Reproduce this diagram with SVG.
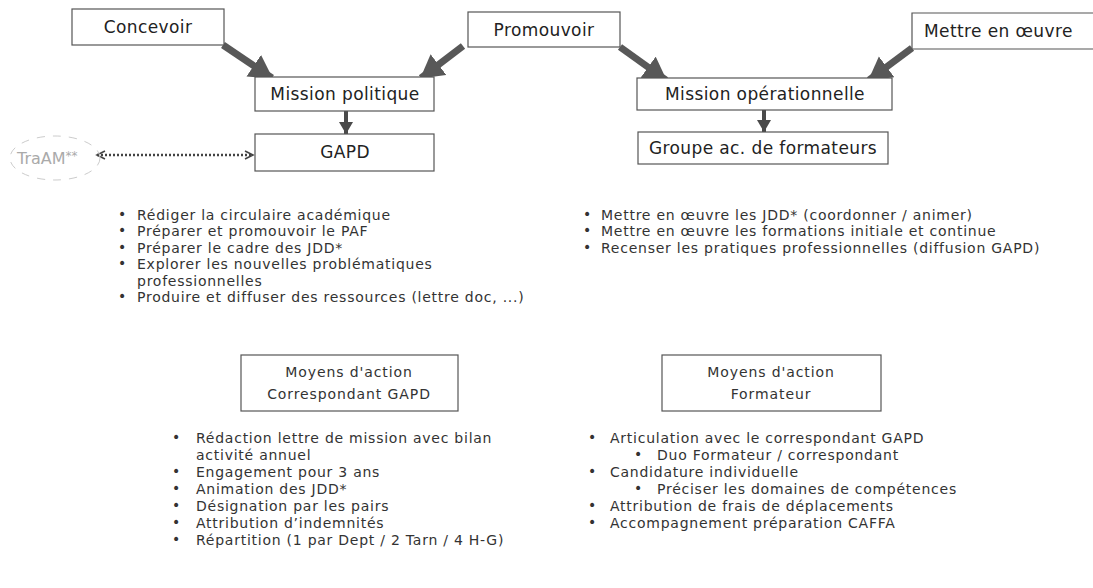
<svg xmlns="http://www.w3.org/2000/svg" width="1093" height="588" viewBox="0 0 1093 588">
<style>
.box{fill:#fff;stroke:#555;stroke-width:1.2}
.lbl{font-family:"DejaVu Sans","Open Sans",sans-serif;font-size:17px;letter-spacing:0.4px;fill:#222;text-anchor:middle}
.li{font-family:"DejaVu Sans","Open Sans",sans-serif;font-size:14px;letter-spacing:0.75px;fill:#333}
.mo{font-family:"DejaVu Sans","Open Sans",sans-serif;font-size:14px;letter-spacing:0.9px;fill:#333;text-anchor:middle}
.bul{font-family:"DejaVu Sans","Open Sans",sans-serif;font-size:14px;fill:#333}
.big{stroke:#585858;stroke-width:7;fill:none}
.small{stroke:#4a4a4a;stroke-width:4;fill:none}
</style>
<defs>
<marker id="hb" markerUnits="userSpaceOnUse" markerWidth="28" markerHeight="28" refX="22" refY="13" orient="auto">
<path d="M0,0 L23,13 L0,26 Z" fill="#585858"/>
</marker>
<marker id="hs" markerUnits="userSpaceOnUse" markerWidth="16" markerHeight="16" refX="12" refY="7" orient="auto">
<path d="M0,0 L12,7 L0,14 Z" fill="#4a4a4a"/>
</marker>
<marker id="chev" markerUnits="userSpaceOnUse" markerWidth="12" markerHeight="12" refX="9" refY="5" orient="auto-start-reverse">
<path d="M1,1 L9,5 L1,9" fill="none" stroke="#444" stroke-width="1.6"/>
</marker>
</defs>
<rect width="1093" height="588" fill="#fff"/>

<g id="connectors">
<line class="big" x1="223" y1="45" x2="272" y2="78" marker-end="url(#hb)"/>
<line class="big" x1="463" y1="46" x2="421" y2="78" marker-end="url(#hb)"/>
<line class="big" x1="620" y1="47" x2="666" y2="80" marker-end="url(#hb)"/>
<line class="big" x1="912" y1="48" x2="869" y2="80" marker-end="url(#hb)"/>
<line class="small" x1="346" y1="111" x2="346" y2="134" marker-end="url(#hs)"/>
<line class="small" x1="764" y1="110" x2="764" y2="132" marker-end="url(#hs)"/>
<line x1="97" y1="155" x2="253" y2="155" stroke="#444" stroke-width="2.5" stroke-dasharray="2,2" marker-start="url(#chev)" marker-end="url(#chev)"/>
</g>

<g id="concevoir"><rect class="box" x="72" y="9" width="152" height="36"/><text class="lbl" x="148" y="33">Concevoir</text></g>
<g id="promouvoir"><rect class="box" x="468" y="12" width="152" height="35"/><text class="lbl" x="544" y="36">Promouvoir</text></g>
<g id="mettre"><path class="box" d="M1100,13 H912 V49 H1100"/><text class="lbl" x="924" y="37" style="text-anchor:start">Mettre en œuvre</text></g>
<g id="mission-politique"><rect class="box" x="255" y="77" width="179" height="34"/><text class="lbl" x="345" y="100">Mission politique</text></g>
<g id="gapd"><rect class="box" x="255" y="134" width="179" height="37"/><text class="lbl" x="345" y="158">GAPD</text></g>
<g id="mission-op"><rect class="box" x="637" y="78" width="255" height="32"/><text class="lbl" x="765" y="100">Mission opérationnelle</text></g>
<g id="groupe"><rect class="box" x="638" y="132" width="250" height="32"/><text class="lbl" x="763" y="154">Groupe ac. de formateurs</text></g>
<g id="traam">
<ellipse cx="55" cy="158" rx="45" ry="22" fill="none" stroke="#ccc" stroke-width="1" stroke-dasharray="8,8"/>
<text x="17" y="164" font-family="DejaVu Sans, Open Sans, sans-serif" font-size="16" fill="#aaa">TraAM<tspan font-size="12" dy="-4">**</tspan></text>
</g>

<g id="list-gapd">
<text class="bul" x="118"><tspan y="219">•</tspan><tspan x="118" y="235">•</tspan><tspan x="118" y="252">•</tspan><tspan x="118" y="268">•</tspan><tspan x="118" y="301">•</tspan></text>
<text class="li" x="137"><tspan y="220">Rédiger la circulaire académique</tspan><tspan x="137" y="236">Préparer et promouvoir le PAF</tspan><tspan x="137" y="253">Préparer le cadre des JDD*</tspan><tspan x="137" y="269">Explorer les nouvelles problématiques</tspan><tspan x="137" y="286">professionnelles</tspan><tspan x="137" y="302">Produire et diffuser des ressources (lettre doc, ...)</tspan></text>
</g>

<g id="list-op">
<text class="bul" x="583"><tspan y="219">•</tspan><tspan x="583" y="235">•</tspan><tspan x="583" y="252">•</tspan></text>
<text class="li" x="601"><tspan y="220">Mettre en œuvre les JDD* (coordonner / animer)</tspan><tspan x="601" y="236">Mettre en œuvre les formations initiale et continue</tspan><tspan x="601" y="253">Recenser les pratiques professionnelles (diffusion GAPD)</tspan></text>
</g>

<g id="moyens-gapd"><rect class="box" x="241" y="355" width="217" height="56"/>
<text class="mo"><tspan x="349" y="377">Moyens d'action</tspan><tspan x="349" y="399">Correspondant GAPD</tspan></text></g>
<g id="moyens-formateur"><rect class="box" x="662" y="355" width="219" height="56"/>
<text class="mo"><tspan x="771" y="377">Moyens d'action</tspan><tspan x="771" y="399">Formateur</tspan></text></g>

<g id="list-gapd-moyens">
<text class="bul" x="172"><tspan y="442">•</tspan><tspan x="172" y="476">•</tspan><tspan x="172" y="493">•</tspan><tspan x="172" y="510">•</tspan><tspan x="172" y="527">•</tspan><tspan x="172" y="544">•</tspan></text>
<text class="li" x="196"><tspan y="443">Rédaction lettre de mission avec bilan</tspan><tspan x="196" y="460">activité annuel</tspan><tspan x="196" y="477">Engagement pour 3 ans</tspan><tspan x="196" y="494">Animation des JDD*</tspan><tspan x="196" y="511">Désignation par les pairs</tspan><tspan x="196" y="528">Attribution d’indemnités</tspan><tspan x="196" y="545">Répartition (1 par Dept / 2 Tarn / 4 H-G)</tspan></text>
</g>

<g id="list-formateur">
<text class="bul"><tspan x="588" y="442">•</tspan><tspan x="634" y="459">•</tspan><tspan x="588" y="476">•</tspan><tspan x="634" y="493">•</tspan><tspan x="588" y="510">•</tspan><tspan x="588" y="527">•</tspan></text>
<text class="li"><tspan x="610" y="443">Articulation avec le correspondant GAPD</tspan><tspan x="657" y="460">Duo Formateur / correspondant</tspan><tspan x="610" y="477">Candidature individuelle</tspan><tspan x="657" y="494">Préciser les domaines de compétences</tspan><tspan x="610" y="511">Attribution de frais de déplacements</tspan><tspan x="610" y="528">Accompagnement préparation CAFFA</tspan></text>
</g>
</svg>
